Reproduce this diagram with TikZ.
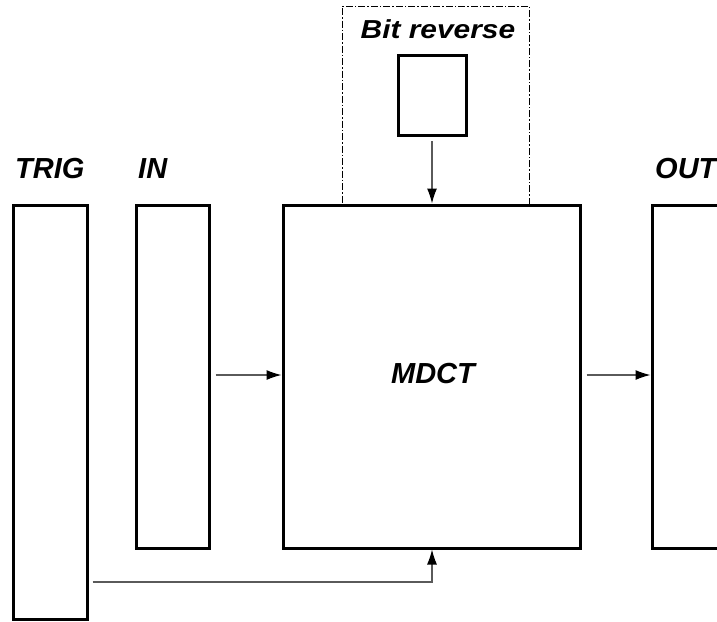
\documentclass[tikz,border=0pt]{standalone}
\usepackage{fontspec}
\setmainfont{Liberation Sans}
\newfontfamily\widefont[FakeStretch=1.15]{Liberation Sans}
\usepackage{xcolor}
\definecolor{Wire}{HTML}{5A5A5A}
\usetikzlibrary{arrows.meta}

\begin{document}
\begin{tikzpicture}[x=1pt,y=-1pt,every node/.style={font=\bfseries\itshape,inner sep=0pt}]
\useasboundingbox (0,0) rectangle (717,621);
\clip (0,0) rectangle (717,621);
\tikzset{blk/.style={draw,line width=3pt,fill=white},
  wire/.style={draw=Wire,line width=1.2pt,-{Latex[length=15pt,width=10pt,color=black]}}}
\node[blk,minimum width=74pt,minimum height=414pt] (trig) at (50,412) {};
\node[blk,minimum width=73pt,minimum height=343pt] (in) at (172.5,376.5) {};
\node[blk,minimum width=297pt,minimum height=343pt] (mdct) at (431.5,376.5) {};
\node[blk,minimum width=74pt,minimum height=343pt] (out) at (689,376.5) {};
\node[draw,dash pattern=on 7pt off 2pt on 1.5pt off 2pt,line width=0.8pt,minimum width=187pt,minimum height=199pt] (grp) at (435.5,105.5) {};
\node[blk,minimum width=68pt,minimum height=80pt] (rev) at (432,95.5) {};
% labels
\node[anchor=base west,font=\fontsize{29}{29}\selectfont\bfseries\itshape] (ltrig) at (15,178) {TRIG};
\node[anchor=base west,font=\fontsize{29}{29}\selectfont\bfseries\itshape] (lin) at (138,178) {IN};
\node[anchor=base west,font=\fontsize{29}{29}\selectfont\bfseries\itshape] (lout) at (655,178) {OUT};
\node[anchor=base,font=\widefont\fontsize{26}{26}\selectfont\bfseries\itshape] (lrev) at (438,38) {Bit reverse};
\node[font=\fontsize{29}{29}\selectfont\bfseries\itshape] (lmdct) at (433,374) {MDCT};
% connections
\draw[wire,shorten <=5pt] (in.east |- 0,375) -- (mdct.west |- 0,375);
\draw[wire,shorten <=5pt] (mdct.east |- 0,375) -- (out.west |- 0,375);
\draw[wire,shorten <=4pt] (rev.south) -- (rev.south |- mdct.north);
\draw[wire,shorten <=4pt] ([yshift=-170pt]trig.east) -| (rev.south |- mdct.south);
\end{tikzpicture}
\end{document}
